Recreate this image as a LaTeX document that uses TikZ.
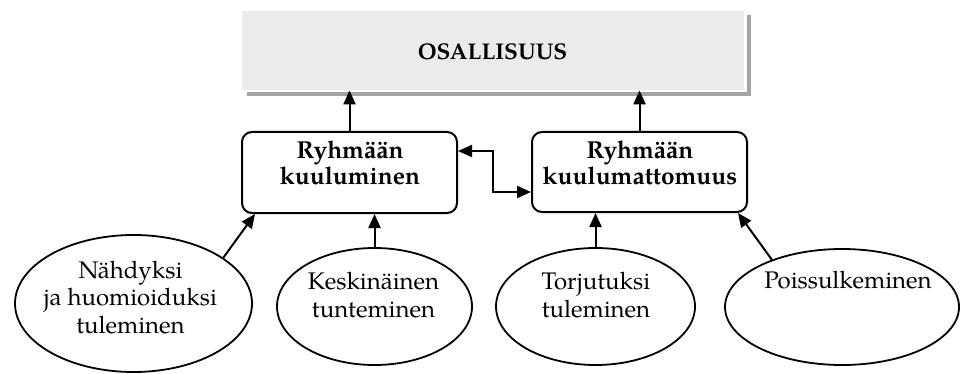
\documentclass[tikz,border=0pt]{standalone}
\usepackage{fontspec}
\setmainfont{texgyrepagella}[Extension=.otf,UprightFont=*-regular,BoldFont=*-bold]
\usetikzlibrary{shapes.geometric,arrows.meta}
\definecolor{panelfill}{HTML}{EBEBEB}
\definecolor{panelshadow}{HTML}{A3A3A3}
\tikzset{
  link/.style={line width=2pt,-{Triangle[length=14pt,width=12pt]}},
  dlink/.style={line width=2pt,{Triangle[length=14pt,width=12pt]}-{Triangle[length=14pt,width=12pt]}},
  groupbox/.style={draw,line width=2pt,rounded corners=10pt,inner sep=0pt},
  factor/.style={draw,ellipse,line width=1.8pt,inner sep=0pt},
  boxtext/.style={anchor=base,align=center,inner sep=0pt,font=\bfseries\fontsize{24.5}{26}\selectfont},
  factortext/.style={anchor=base,align=center,inner sep=0pt,font=\fontsize{24}{27.5}\selectfont},
}
\begin{document}
\begin{tikzpicture}[x=1pt,y=-1pt]
\useasboundingbox (0,0) rectangle (960,374);
% headline panel with its drop shadow
\fill[panelshadow] (246.5,15) rectangle (751,96);
\fill[white] (240,9) rectangle (746.5,92);
\node[fill=panelfill,inner sep=0pt,minimum width=502pt,minimum height=79pt,anchor=north west] (top) at (242,11) {};
\node[anchor=base,inner sep=0pt,font=\bfseries\fontsize{22.7}{26}\selectfont] (toptext) at (492.5,60) {OSALLISUUS};
% the two group boxes
\node[groupbox,minimum width=215pt,minimum height=81pt] (lbox) at (349.5,172.5) {};
\node[groupbox,minimum width=215pt,minimum height=80pt] (rbox) at (639.5,172) {};
\node[boxtext] (ltext) at (350,185) {Ryhmään\\kuuluminen};
\node[boxtext] (rtext) at (640,185) {Ryhmään\\kuulumattomuus};
% the four factors
\node[factor,minimum width=237pt,minimum height=137pt] (e1) at (133.5,303.5) {};
\node[factor,minimum width=195pt,minimum height=117pt] (e2) at (374.5,306.5) {};
\node[factor,minimum width=199pt,minimum height=117pt] (e3) at (595.5,306.5) {};
\node[factor,minimum width=234pt,minimum height=116pt] (e4) at (842,307) {};
\node[factortext] (t1) at (130.5,333) {Nähdyksi\\ja huomioiduksi\\tuleminen};
\node[factortext] (t2) at (373.5,317) {Keskinäinen\\tunteminen};
\node[factortext] (t3) at (596,317) {Torjutuksi\\tuleminen};
\node[factortext] (t4) at (848,288) {Poissulkeminen};
% connectors
\coordinate (jog) at (493,172);
\draw[link] (lbox.north) -- (lbox.north |- top.south);
\draw[link] (rbox.north) -- (rbox.north |- top.south);
\draw[dlink] ([yshift=21.5pt]lbox.east) -| (jog) |- ([yshift=-20pt]rbox.west);
\draw[link] (e1.27) -- ([xshift=14pt]lbox.south west);
\draw[link] (e2.north) -- (e2.north |- lbox.south);
\draw[link] (e3.north) -- (e3.north |- rbox.south);
\draw[link] (e4.146) -- ([xshift=-10pt]rbox.south east);
\end{tikzpicture}
\end{document}
